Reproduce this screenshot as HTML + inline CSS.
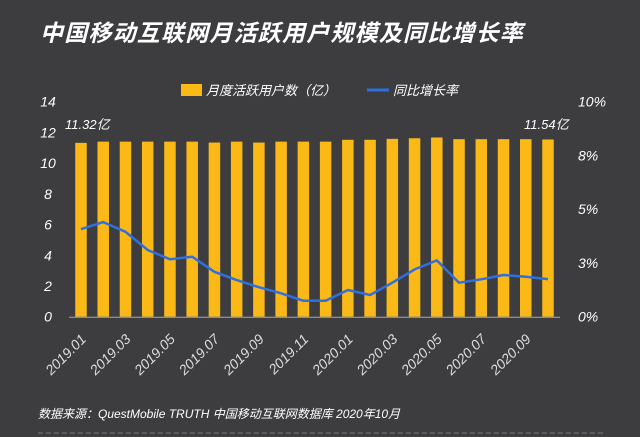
<!DOCTYPE html>
<html><head><meta charset="utf-8"><style>
html,body{margin:0;padding:0;background:#3d3c3e;}
svg{display:block;}
text{font-family:"Liberation Sans","Noto Sans CJK SC",sans-serif;}
</style></head><body>
<svg id="chart" width="640" height="437" viewBox="0 0 640 437">
<rect x="0" y="0" width="640" height="437" fill="#3d3c3e"/>
<text x="40" y="41" fill="#ffffff" font-size="23" font-weight="bold" font-style="italic" letter-spacing="1.2">中国移动互联网月活跃用户规模及同比增长率</text>
<g>
<rect x="181" y="84" width="21" height="12" fill="#fbb917"/>
<text x="206" y="95" fill="#ffffff" font-size="13" font-style="italic">月度活跃用户数（亿）</text>
<line x1="367" y1="90" x2="389" y2="90" stroke="#2f6fe0" stroke-width="3"/>
<text x="393" y="95" fill="#ffffff" font-size="13" font-style="italic">同比增长率</text>
</g>
<g id="bars"></g>
<g id="axes"></g>
<path id="line" fill="none" stroke="#2f6fe0" stroke-width="2.5" stroke-linejoin="round"/>
<text x="65" y="129" fill="#ffffff" font-size="13" font-style="italic">11.32亿</text>
<text x="524" y="129" fill="#ffffff" font-size="13" font-style="italic">11.54亿</text>
<text x="38" y="418" fill="#ffffff" font-size="12" font-style="italic">数据来源：QuestMobile TRUTH 中国移动互联网数据库 2020年10月</text>
<line x1="38" y1="433" x2="605" y2="433" stroke="#777" stroke-width="1" stroke-dasharray="5,3"/>
</svg>
<script>
const categories = ["2019.01","2019.02","2019.03","2019.04","2019.05","2019.06","2019.07","2019.08","2019.09","2019.10","2019.11","2019.12","2020.01","2020.02","2020.03","2020.04","2020.05","2020.06","2020.07","2020.08","2020.09","2020.10"];
const mauValues = [11.32,11.4,11.4,11.4,11.4,11.4,11.34,11.4,11.34,11.4,11.4,11.4,11.52,11.52,11.58,11.62,11.67,11.56,11.56,11.56,11.56,11.54];
const growthValues = [4.07,4.4,3.95,3.1,2.67,2.79,2.09,1.7,1.37,1.09,0.74,0.74,1.24,1.01,1.58,2.2,2.62,1.58,1.74,1.94,1.86,1.75];
const leftTicks = [0,2,4,6,8,10,12,14];
const rightTicks = [0,2.5,5,7.5,10];
const rightTickLabels = ["0%","3%","5%","8%","10%"];
const xLabelIdx = [0,2,4,6,8,10,12,14,16,18,20];

const NS="http://www.w3.org/2000/svg";
const y0=316.7, yTop=101.7, x0=81, step=(548-81)/21, bw=11.5;
const yL=v=>y0-(v/14)*(y0-yTop);
const yR=v=>y0-(v/10)*(y0-yTop);
const xC=i=>x0+i*step;
function mk(tag,attrs,parent){const e=document.createElementNS(NS,tag);for(const k in attrs)e.setAttribute(k,attrs[k]);parent.appendChild(e);return e;}
const bars=document.getElementById('bars'), axes=document.getElementById('axes');
mauValues.forEach((v,i)=>{
  const r=mk('rect',{x:xC(i)-bw/2,y:yL(v),width:bw,height:y0-yL(v),fill:'#fbb917'},bars);
  
  
});
const base=mk('line',{x1:69,x2:560,y1:y0+0.5,y2:y0+0.5,stroke:'#aaa','stroke-width':1},axes);


leftTicks.forEach(t=>{
  const e=mk('text',{x:48,y:yL(t)+5,fill:'#fff','font-size':14,'font-style':'italic','text-anchor':'middle'},axes);
  e.textContent=t;
  
  
});
rightTicks.forEach((t,i)=>{
  const e=mk('text',{x:578,y:yR(t)+5,fill:'#fff','font-size':14,'font-style':'italic'},axes);
  e.textContent=rightTickLabels[i];
  
  
});
xLabelIdx.forEach(i=>{
  const x=xC(i)+6, y=340;
  const e=mk('text',{x:x,y:y,fill:'#ddd','font-size':14,'font-style':'italic','text-anchor':'end',transform:`rotate(-45 ${x} ${y})`},axes);
  e.textContent=categories[i];
  
  
});
document.getElementById('line').setAttribute('d',growthValues.map((v,i)=>(i?'L':'M')+xC(i).toFixed(1)+' '+yR(v).toFixed(1)).join(' '));
</script>
</body></html>
